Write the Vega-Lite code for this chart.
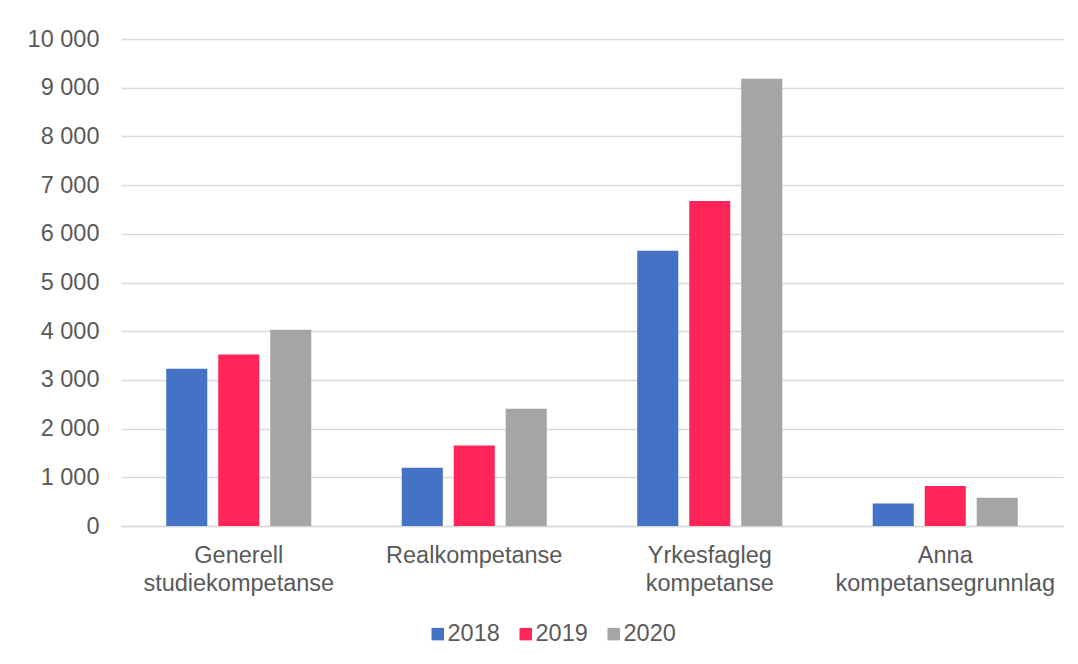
{
  "$schema": "https://vega.github.io/schema/vega-lite/v6.json",
  "width": 942,
  "height": 487,
  "autosize": {"type": "none"},
  "padding": {"left": 121, "top": 39, "right": 15, "bottom": 138},
  "background": "white",
  "data": {
    "values": [
      {"kategori": "Generell studiekompetanse", "år": "2018", "verdi": 3230},
      {"kategori": "Generell studiekompetanse", "år": "2019", "verdi": 3524},
      {"kategori": "Generell studiekompetanse", "år": "2020", "verdi": 4031},
      {"kategori": "Realkompetanse", "år": "2018", "verdi": 1197},
      {"kategori": "Realkompetanse", "år": "2019", "verdi": 1655},
      {"kategori": "Realkompetanse", "år": "2020", "verdi": 2409},
      {"kategori": "Yrkesfagleg kompetanse", "år": "2018", "verdi": 5653},
      {"kategori": "Yrkesfagleg kompetanse", "år": "2019", "verdi": 6674},
      {"kategori": "Yrkesfagleg kompetanse", "år": "2020", "verdi": 9185},
      {"kategori": "Anna kompetansegrunnlag", "år": "2018", "verdi": 464},
      {"kategori": "Anna kompetansegrunnlag", "år": "2019", "verdi": 821},
      {"kategori": "Anna kompetansegrunnlag", "år": "2020", "verdi": 581}
    ]
  },
  "mark": {"type": "bar"},
  "encoding": {
    "x": {
      "field": "kategori",
      "type": "nominal",
      "sort": null,
      "scale": {"paddingInner": 0, "paddingOuter": 0},
      "axis": {
        "title": null,
        "labelAngle": 0,
        "labelExpr": "split(datum.label, ' ')",
        "labelLimit": 0,
        "labelLineHeight": 28,
        "labelPadding": 17,
        "ticks": false,
        "tickSize": 0,
        "domain": true,
        "domainColor": "#d9d9d9",
        "domainWidth": 1.5,
        "grid": false
      }
    },
    "xOffset": {
      "field": "år",
      "type": "nominal",
      "scale": {"paddingInner": 0.21, "paddingOuter": 0.87}
    },
    "y": {
      "field": "verdi",
      "type": "quantitative",
      "scale": {"domain": [0, 10000], "nice": false},
      "axis": {
        "title": null,
        "values": [0, 1000, 2000, 3000, 4000, 5000, 6000, 7000, 8000, 9000, 10000],
        "format": ",d",
        "domain": false,
        "ticks": false,
        "tickSize": 0,
        "labelPadding": 22,
        "grid": true,
        "gridColor": "#d9d9d9",
        "gridWidth": 1.3
      }
    },
    "color": {
      "field": "år",
      "type": "nominal",
      "scale": {"domain": ["2018", "2019", "2020"], "range": ["#4472C4", "#FF2559", "#A5A5A5"]},
      "legend": {
        "title": null,
        "orient": "none",
        "direction": "horizontal",
        "legendX": 305,
        "legendY": 583,
        "symbolType": "square",
        "symbolSize": 156,
        "symbolStrokeWidth": 0,
        "labelOffset": -2,
        "columnPadding": 14,
        "labelFontSize": 23.5
      }
    }
  },
  "config": {
    "locale": {
      "number": {"decimal": ",", "thousands": " ", "grouping": [3], "currency": ["", " kr"]}
    },
    "view": {"stroke": null},
    "font": "Liberation Sans",
    "axis": {"labelFont": "Liberation Sans", "labelFontSize": 23.5, "labelColor": "#595959"},
    "legend": {"labelFont": "Liberation Sans", "labelColor": "#595959"}
  }
}
